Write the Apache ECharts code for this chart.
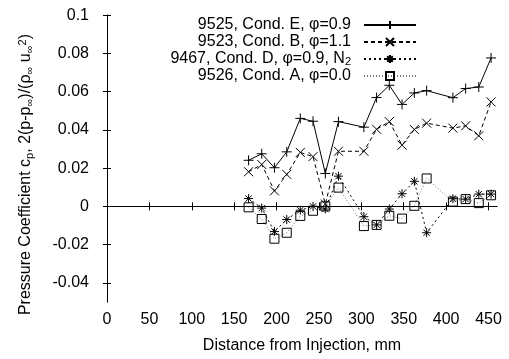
<!DOCTYPE html>
<html lang="en">
<head>
<meta charset="UTF-8">
<title>Pressure coefficient vs distance</title>
<style>
    html, body { margin: 0; padding: 0; background: #fff; }
    #chart { width: 509px; height: 359px; }
</style>
</head>
<body>
<div id="chart"></div>
<script src="https://cdn.jsdelivr.net/npm/echarts@6/dist/echarts.min.js"></script>
<script>
    // distance from injection (mm), same stations for every run
    var distance = [167, 182.5, 197.5, 212, 228, 243, 257.5, 273, 303, 318, 333, 348, 362.5, 377, 408, 423, 438.5, 453];

    var condE = [0.0241, 0.0275, 0.0202, 0.0285, 0.046, 0.0445, 0.0172, 0.0443, 0.0414, 0.0569, 0.0633, 0.0533, 0.0593, 0.0605, 0.0568, 0.0616, 0.0624, 0.0776];
    var condB = [0.0181, 0.0219, 0.0081, 0.0167, 0.0282, 0.026, 0.0012, 0.0288, 0.0288, 0.0403, 0.0443, 0.032, 0.0402, 0.0435, 0.0409, 0.0421, 0.0369, 0.0546];
    var condD = [0.0041, -0.0009, -0.0131, -0.0069, -0.002, 0.0, -0.0014, 0.0158, -0.0054, -0.0097, -0.0014, 0.0066, 0.0131, -0.0138, 0.004, 0.0038, 0.0064, 0.0064];
    var condA = [-0.0005, -0.0066, -0.0169, -0.0138, -0.005, -0.0023, 0.0, 0.0098, -0.0103, -0.0097, -0.0049, -0.0064, 0.0003, 0.0146, 0.0025, 0.0038, 0.0017, 0.0058];

    var names = ['9525, Cond. E, φ=0.9', '9523, Cond. B, φ=1.1', '9467, Cond. D, φ=0.9, N2', '9526, Cond. A, φ=0.0'];

    var xTicks = [0, 50, 100, 150, 200, 250, 300, 350, 400, 450];
    var yTicks = [-0.04, -0.02, 0, 0.02, 0.04, 0.06, 0.08, 0.1];

    var FONT = 'Liberation Sans';

    var plusPath = 'path://M5,0L5,10M0,5L10,5';
    var crossPath = 'path://M0,0L10,10M10,0L0,10';
    var starPath = 'path://M5,0L5,10M0,5L10,5M1.5,1.5L8.5,8.5M8.5,1.5L1.5,8.5';
    var squarePath = 'path://M0,0L10,0L10,10L0,10Z';

    var pairs = function (ys) {
        return distance.map(function (x, i) {
            return [x, ys[i]];
        });
    };

    var makeSeries = function (name, ys, symbol, size, lineColor, dash) {
        return {
            name: name,
            type: 'line',
            data: pairs(ys),
            symbol: symbol,
            symbolSize: size,
            showAllSymbol: true,
            animation: false,
            lineStyle: { color: lineColor, width: 1, type: dash },
            itemStyle: { color: 'none', borderColor: '#000', borderWidth: 1 },
            emphasis: { disabled: true }
        };
    };

    var frameAxis = {
        axisLine: { show: true, lineStyle: { color: '#000', width: 1 } },
        axisTick: { show: true, inside: true, length: 4, lineStyle: { color: '#000' } },
        splitLine: { show: false }
    };

    var chart = echarts.init(document.getElementById('chart'), null, { renderer: 'canvas' });

    var option = {
        backgroundColor: '#fff',
        animation: false,
        grid: { left: 107, right: 12, top: 14, bottom: 55, containLabel: false },
        legend: {
            orient: 'vertical',
            align: 'right',
            right: 92,
            top: 17,
            padding: 0,
            itemGap: 1,
            itemWidth: 52,
            itemHeight: 10,
            selectedMode: false,
            data: names,
            formatter: function (name) {
                return name.replace(', N2', ', N{sub|2}');
            },
            textStyle: {
                fontFamily: FONT,
                fontSize: 16,
                color: '#000',
                lineHeight: 16,
                padding: [0, 8, 0, 0],
                rich: {
                    sub: { fontFamily: FONT, fontSize: 11, color: '#000', verticalAlign: 'bottom', lineHeight: 10 }
                }
            }
        },
        xAxis: [
            Object.assign({}, frameAxis, {
                type: 'value',
                position: 'bottom',
                min: 0,
                max: 460,
                name: 'Distance from Injection, mm',
                nameLocation: 'middle',
                nameGap: 36,
                nameTextStyle: { fontFamily: FONT, fontSize: 16, color: '#000' },
                axisTick: { show: true, inside: true, length: 4, lineStyle: { color: '#000' }, customValues: xTicks },
                axisLabel: { fontFamily: FONT, fontSize: 16, color: '#000', margin: 10, customValues: xTicks }
            }),
            Object.assign({}, frameAxis, {
                type: 'value',
                position: 'top',
                min: 0,
                max: 460,
                axisTick: { show: true, inside: true, length: 4, lineStyle: { color: '#000' }, customValues: xTicks },
                axisLabel: { show: false }
            })
        ],
        yAxis: [
            Object.assign({}, frameAxis, {
                type: 'value',
                position: 'left',
                min: -0.05,
                max: 0.1,
                name: 'Pressure Coefficient c{sub|p}, 2(p-p{sub|∞})/(ρ{sub|∞} u{sub|∞}{sup|2})',
                nameLocation: 'middle',
                nameGap: 72,
                nameTextStyle: {
                    fontFamily: FONT,
                    fontSize: 16,
                    color: '#000',
                    lineHeight: 18,
                    padding: [0, 32, 0, 0],
                    rich: {
                        sub: { fontFamily: FONT, fontSize: 11, color: '#000', verticalAlign: 'bottom', lineHeight: 12 },
                        sup: { fontFamily: FONT, fontSize: 11, color: '#000', verticalAlign: 'top', lineHeight: 12 }
                    }
                },
                axisTick: { show: true, inside: true, length: 4, lineStyle: { color: '#000' }, customValues: yTicks },
                axisLabel: { fontFamily: FONT, fontSize: 16, color: '#000', margin: 18, customValues: yTicks }
            }),
            Object.assign({}, frameAxis, {
                type: 'value',
                position: 'right',
                min: -0.05,
                max: 0.1,
                axisTick: { show: true, inside: true, length: 4, lineStyle: { color: '#000' }, customValues: yTicks },
                axisLabel: { show: false }
            })
        ],
        series: [
            makeSeries(names[0], condE, plusPath, 10, '#000', 'solid'),
            makeSeries(names[1], condB, crossPath, 9, '#000', [4, 3]),
            makeSeries(names[2], condD, starPath, 9, '#000', [2, 3]),
            makeSeries(names[3], condA, squarePath, 9, '#777', [1, 2])
        ]
    };

    chart.setOption(option);
</script>
</body>
</html>
